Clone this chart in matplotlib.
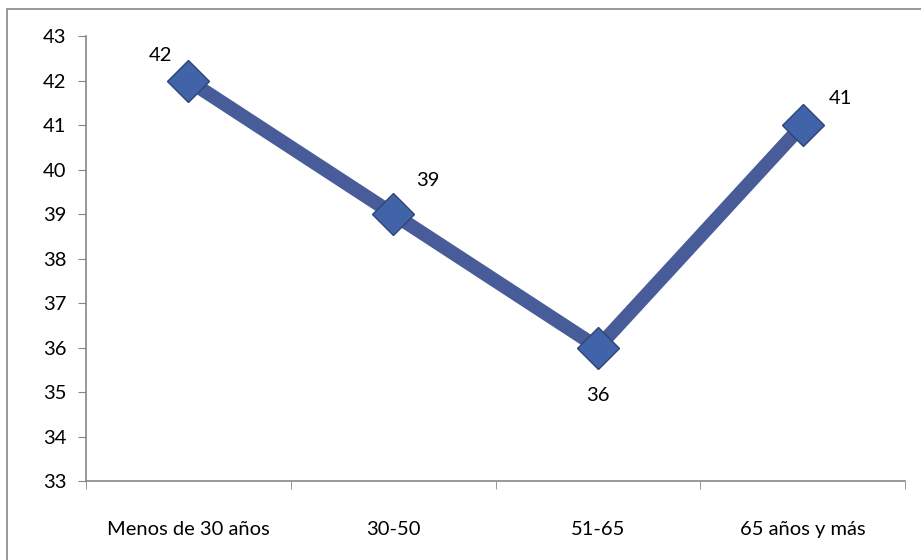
import matplotlib.pyplot as plt
from matplotlib.patches import Rectangle
import numpy as np

categories = ['Menos de 30 años', '30-50', '51-65', '65 años y más']
values = [42, 39, 36, 41]
# label offsets in pixels (dx, dy), Excel-style placement
label_offsets = [(-28, 25), (35, 34), (0, -48), (38, 27)]

LINE = '#475c98'
MARKER = '#4163a8'
SPINE = '#868686'

plt.rcParams['font.family'] = ['Lato', 'DejaVu Sans']

fig = plt.figure(figsize=(9.21, 5.60), dpi=100)
# outer chart border
fig.patches.append(Rectangle((7 / 921, -0.1), 1, 1.1 - 9 / 560, transform=fig.transFigure,
                             fill=False, edgecolor=SPINE, linewidth=1.2))

ax = fig.add_axes([86 / 921, 1 - 481 / 560, (905 - 86) / 921, (481 - 36) / 560])

x = np.arange(len(categories)) + 0.5
ax.plot(x, values, color=LINE, linewidth=10, solid_capstyle='butt', zorder=2)
ax.plot(x, values, linestyle='none', marker='D', markersize=21,
        markerfacecolor=MARKER, markeredgecolor='#2f4577', markeredgewidth=1, zorder=3)

for xi, v, (dx, dy) in zip(x, values, label_offsets):
    ax.annotate(str(v), (xi, v), xytext=(dx * 0.72, dy * 0.72), textcoords='offset points',
                ha='center', va='center', fontsize=14.5)

ax.set_xlim(0, len(categories))
ax.set_ylim(33, 43)
ax.set_yticks(range(33, 44))
ax.set_xticks(x)
ax.set_xticklabels(categories, fontsize=14.5)
ax.set_xticks(np.arange(len(categories) + 1), minor=True)
ax.tick_params(axis='x', which='major', length=0, pad=29)
ax.tick_params(axis='x', which='minor', length=6, color=SPINE, direction='out')
ax.tick_params(axis='y', length=6, color=SPINE, labelsize=14.5, pad=8)

for s in ['top', 'right']:
    ax.spines[s].set_visible(False)
for s in ['left', 'bottom']:
    ax.spines[s].set_color(SPINE)
    ax.spines[s].set_linewidth(1.2)

fig.savefig('out.png', dpi=100)
